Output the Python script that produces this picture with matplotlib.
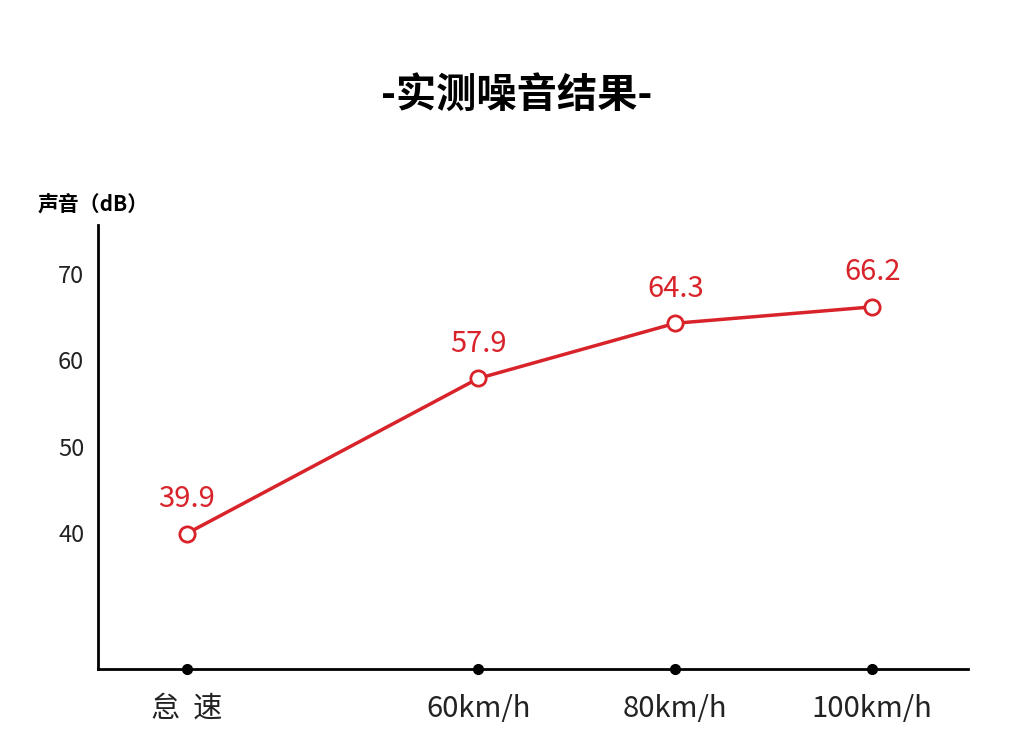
import matplotlib
matplotlib.use("Agg")
import matplotlib.pyplot as plt

categories = ["怠  速", "60km/h", "80km/h", "100km/h"]
xpos = [30.4, 60, 80, 100]
values = [39.9, 57.9, 64.3, 66.2]
yticks = [40, 50, 60, 70]

plt.rcParams['font.family'] = ['Noto Sans CJK SC', 'DejaVu Sans']
fig = plt.figure(figsize=(10.33, 7.55), dpi=100)
ax = fig.add_axes([0.0949, 0.114, 0.842, 0.588])
red = "#d9232a"
ax.plot(xpos, values, color=red, lw=2.5, marker="o", ms=11, mfc="white", mec=red, mew=2, zorder=3)
for x, v in zip(xpos, values):
    ax.annotate(f"{v}", (x, v), xytext=(0, 14), textcoords="offset points", ha="center",
                va="bottom", color=red, fontsize=21, fontweight="medium")
ax.plot(xpos, [24.2] * len(xpos), 'o', color="black", ms=7, clip_on=False, zorder=4)
ax.set_xlim(21.4, 109.7)
ax.set_ylim(24.2, 75.7)
ax.set_xticks(xpos)
ax.set_xticklabels(categories, fontsize=21, color="#222222")
ax.set_yticks(yticks)
ax.set_yticklabels([str(t) for t in yticks], fontsize=17, color="#222222")
ax.tick_params(axis="x", length=0, pad=18)
ax.tick_params(axis="y", length=0, pad=10)
for s in ["top", "right"]:
    ax.spines[s].set_visible(False)
for s in ["left", "bottom"]:
    ax.spines[s].set_linewidth(2)
fig.text(0.5, 0.874, "-实测噪音结果-", ha="center", va="center", fontsize=29, fontweight="bold")
fig.text(0.036, 0.728, "声音（dB）", ha="left", va="center", fontsize=15, fontweight="bold")
fig.savefig("out.png", dpi=100)
